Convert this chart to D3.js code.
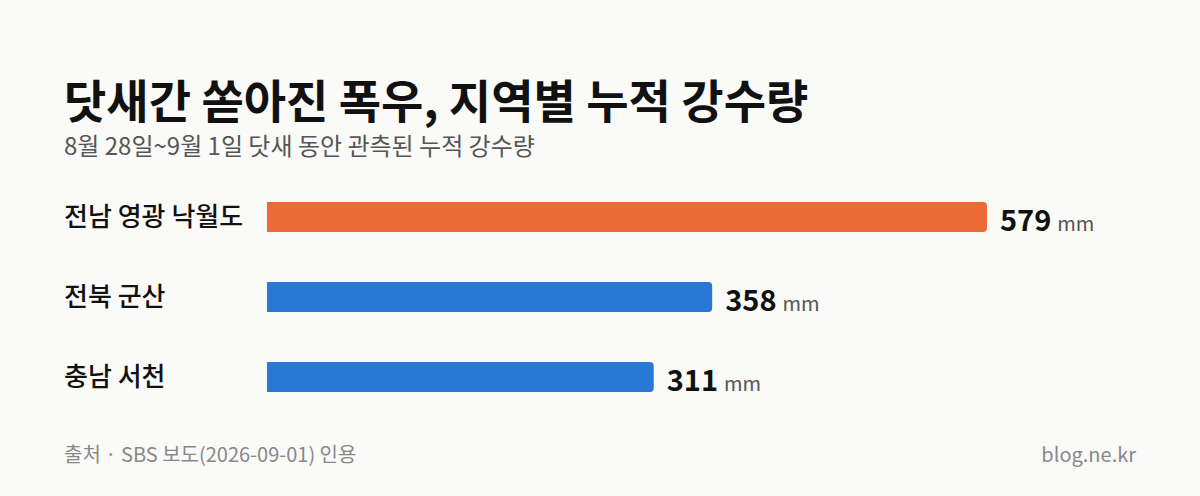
<!DOCTYPE html>
<html><head><meta charset="utf-8">
<script src="https://cdn.jsdelivr.net/npm/d3@7"></script>
<style>body{margin:0;background:#fafaf8;}svg{display:block;font-family:"Noto Sans CJK KR","Noto Sans",sans-serif;}</style>
</head><body><svg id="c" width="1200" height="496"></svg>
<script>
const categories = ["전남 영광 낙월도","전북 군산","충남 서천"];
const values = [579,358,311];
const colors = ["#ec6a35","#2a78d6","#2a78d6"];
const unit = "mm";

const svg = d3.select("#c");
svg.append("rect").attr("width",1200).attr("height",496).attr("fill","#fafaf8");
svg.append("text").attr("x",64).attr("y",118).attr("font-size",46).attr("font-weight",700).attr("fill","#111")
  .text("닷새간 쏟아진 폭우, 지역별 누적 강수량");
svg.append("text").attr("x",64).attr("y",155).attr("font-size",24).attr("fill","#555")
  .text("8월 28일~9월 1일 닷새 동안 관측된 누적 강수량");

const x = d3.scaleLinear().domain([0,579]).range([267,987]);
const y = d3.scaleBand().domain(categories).range([177,417]).paddingInner(0.625).paddingOuter(0.3125);
const bh = y.bandwidth();
const r = 4;
const g = svg.append("g");
categories.forEach((c,i)=>{
  const y0 = y(c), x0 = x(0), x1 = x(values[i]);
  const p = `M${x0},${y0}H${x1-r}Q${x1},${y0} ${x1},${y0+r}V${y0+bh-r}Q${x1},${y0+bh} ${x1-r},${y0+bh}H${x0}Z`;
  g.append("path").attr("d",p).attr("fill",colors[i]);
  g.append("text").attr("x",64).attr("y",y0+bh/2).attr("dy","0.36em").attr("font-size",26).attr("font-weight",500).attr("fill","#111").text(c);
  const t = g.append("text").attr("x",x1+13).attr("y",y0+bh/2+8).attr("dy","0.36em");
  t.append("tspan").attr("font-size",29).attr("font-weight",700).attr("fill","#111").text(values[i]);
  t.append("tspan").attr("font-size",20).attr("fill","#555").attr("dx",6).text(unit);
});
svg.append("text").attr("x",64).attr("y",462).attr("font-size",20).attr("fill","#888").text("출처 · SBS 보도(2026-09-01) 인용");
svg.append("text").attr("x",1136).attr("y",462).attr("text-anchor","end").attr("font-size",20).attr("fill","#888").text("blog.ne.kr");
</script></body></html>
